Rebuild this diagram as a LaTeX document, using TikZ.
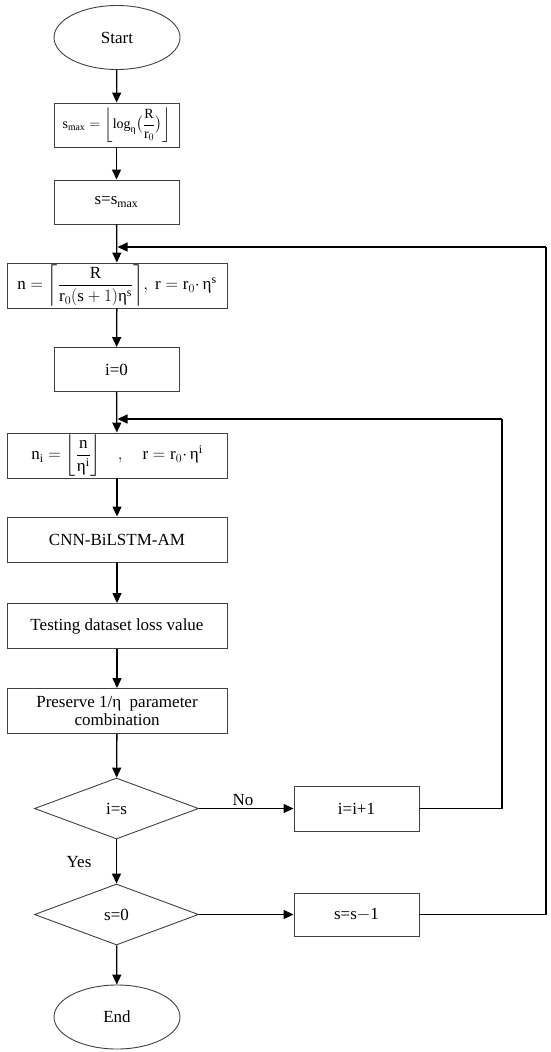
\documentclass[tikz,border=0pt]{standalone}
\usepackage{amsmath}
\usepackage{fontspec}
\setmainfont{Liberation Serif}
\usetikzlibrary{shapes.geometric,arrows.meta}
\newcommand{\etaup}{\text{η}}
\newcommand{\rmv}[1]{\mathrm{#1}}
\begin{document}
\begin{tikzpicture}[x=1pt,y=-1pt,
  every node/.style={font=\fontsize{17}{20}\selectfont},
  box/.style={draw=black!75,line width=0.9pt,rectangle,inner sep=0pt,align=center},
  narrow/.style={box,minimum width=125pt,minimum height=44pt},
  wide/.style={box,minimum width=220pt,minimum height=45pt},
  term/.style={draw=black!75,line width=0.9pt,ellipse,minimum width=126pt,minimum height=64pt,inner sep=0pt},
  dec/.style={draw=black!75,line width=0.9pt,diamond,minimum width=164pt,minimum height=61pt,inner sep=0pt},
  arr/.style={draw=black,line width=1.3pt,-{Triangle[length=10pt,width=9pt]}},
  ln/.style={draw=black,line width=1.3pt}]
\useasboundingbox (0,0) rectangle (550,1052);

\node[term] (start) at (117,37.5) {Start};
\node[narrow,font=\fontsize{14}{16}\selectfont] (smax) at (116.5,125) {$\rmv{s}_{\rmv{max}}=\biggl\lfloor \log_{\etaup}\bigl(\dfrac{\rmv{R}}{\rmv{r}_0}\bigr)\biggr\rfloor$};
\node[narrow] (ss) at (116.5,202) {s=s$_{\text{max}}$};
\node[wide] (nb) at (117,285.5) {$\rmv{n}=\biggl\lceil\dfrac{\rmv{R}}{\rmv{r}_0(\rmv{s}+1)\etaup^{\rmv{s}}}\biggr\rceil,\ \rmv{r}=\rmv{r}_0{\cdot}\,\etaup^{\rmv{s}}$};
\node[narrow] (i0) at (116.5,369.5) {i=0};
\node[wide] (ni) at (117,455.5) {$\rmv{n}_{\rmv{i}}=\biggl\lfloor\dfrac{\rmv{n}}{\etaup^{\rmv{i}}}\biggr\rfloor\quad,\quad\rmv{r}=\rmv{r}_0{\cdot}\,\etaup^{\rmv{i}}$};
\node[wide] (cnn) at (117,539.5) {CNN-BiLSTM-AM};
\node[wide] (tst) at (117,626) {Testing dataset loss value};
\node[wide] (pre) at (117,711) {Preserve 1/η\ \ parameter\\[-2pt]combination};
\node[dec] (d1) at (116.5,808.5) {i=s};
\node[dec] (d2) at (116.5,914.5) {s=0};
\node[narrow,minimum height=45pt] (inc) at (356.5,808.5) {i=i+1};
\node[narrow,minimum height=43pt] (dcr) at (356.5,914.5) {s=s$-$1};
\node[term] (end) at (117,1017) {End};

\draw[arr] (start) -- (smax);
\draw[arr] (smax) -- (ss);
\draw[arr] (ss) -- (nb);
\draw[arr] (nb) -- (i0);
\draw[arr] (i0) -- (ni);
\draw[arr] (ni) -- (cnn);
\draw[arr] (cnn) -- (tst);
\draw[arr] (tst) -- (pre);
\draw[arr] (pre) -- (d1);
\draw[arr] (d1) -- (d2);
\draw[arr] (d2) -- (end);
\draw[arr] (d1) -- (inc);
\draw[arr] (d2) -- (dcr);

\coordinate (c1) at (546,247);
\coordinate (m1) at (117.5,247);
\coordinate (c2) at (502,419);
\coordinate (m2) at (117.5,419);
\draw[ln] (dcr.east) -| (c1);
\draw[arr] (c1) -- (m1);
\draw[ln] (inc.east) -| (c2);
\draw[arr] (c2) -- (m2);

\node (no) at (243,800) {No};
\node (yes) at (79,862) {Yes};
\end{tikzpicture}
\end{document}
